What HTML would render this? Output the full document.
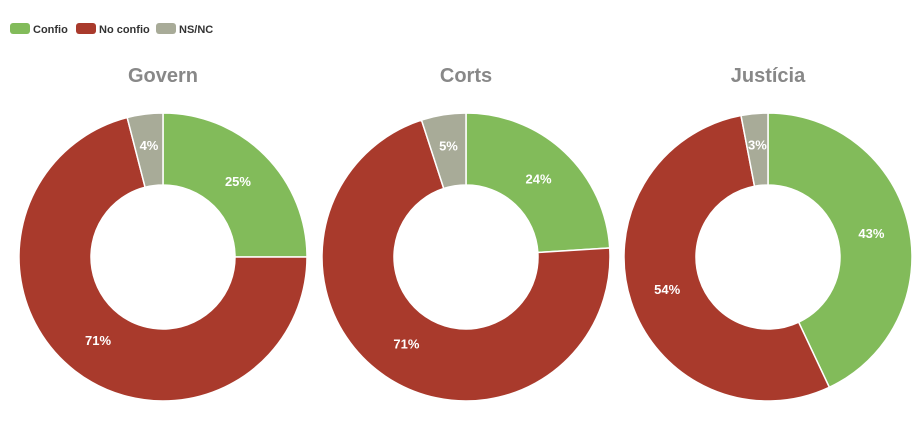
<!DOCTYPE html>
<html><head><meta charset="utf-8"><style>
body{margin:0;background:#fff;width:922px;height:436px;overflow:hidden;font-family:"Liberation Sans",sans-serif}
</style></head><body>
<svg id="s" width="922" height="436" xmlns="http://www.w3.org/2000/svg">
<g font-size="11" font-weight="bold" fill="#333">
<rect x="10" y="23" width="20" height="11" rx="3" fill="#82bb5a"/><text x="33" y="33">Confio</text>
<rect x="76" y="23" width="20" height="11" rx="3" fill="#a93a2c"/><text x="99" y="33">No confio</text>
<rect x="156" y="23" width="20" height="11" rx="3" fill="#a8ab98"/><text x="179" y="33">NS/NC</text>
</g>
</svg>
<script>
var s=document.getElementById('s'),NS='http://www.w3.org/2000/svg';
var charts=[["Govern",163,[25,71,4]],["Corts",466,[24,71,5]],["Justícia",768,[43,54,3]]];
var cols=["#82bb5a","#a93a2c","#a8ab98"];
function el(t,a,txt){var e=document.createElementNS(NS,t);for(var k in a)e.setAttribute(k,a[k]);if(txt)e.textContent=txt;s.appendChild(e);return e;}
charts.forEach(function(c){
 var cx=c[1],cy=257,R=144,r=72,a0=0;
 el('text',{x:cx,y:82,'text-anchor':'middle','font-size':'20','font-weight':'bold',fill:'#888'},c[0]);
 c[2].forEach(function(v,i){
  var a1=a0+v/100*2*Math.PI;
  function p(rr,a){return [cx+rr*Math.sin(a),cy-rr*Math.cos(a)];}
  var A=p(R,a0),B=p(R,a1),C=p(r,a1),D=p(r,a0),L=(a1-a0)>Math.PI?1:0;
  el('path',{d:'M'+A+'A'+R+','+R+' 0 '+L+' 1 '+B+'L'+C+'A'+r+','+r+' 0 '+L+' 0 '+D+'Z',fill:cols[i],stroke:'#fff','stroke-width':'1.5'});
  var m=(a0+a1)/2,q=p(v<8?112:106,m);
  el('text',{x:q[0],y:q[1]+4,'text-anchor':'middle','font-size':'13','font-weight':'bold',fill:'#fff'},v+'%');
  a0=a1;
 });
});
</script>
</body></html>
